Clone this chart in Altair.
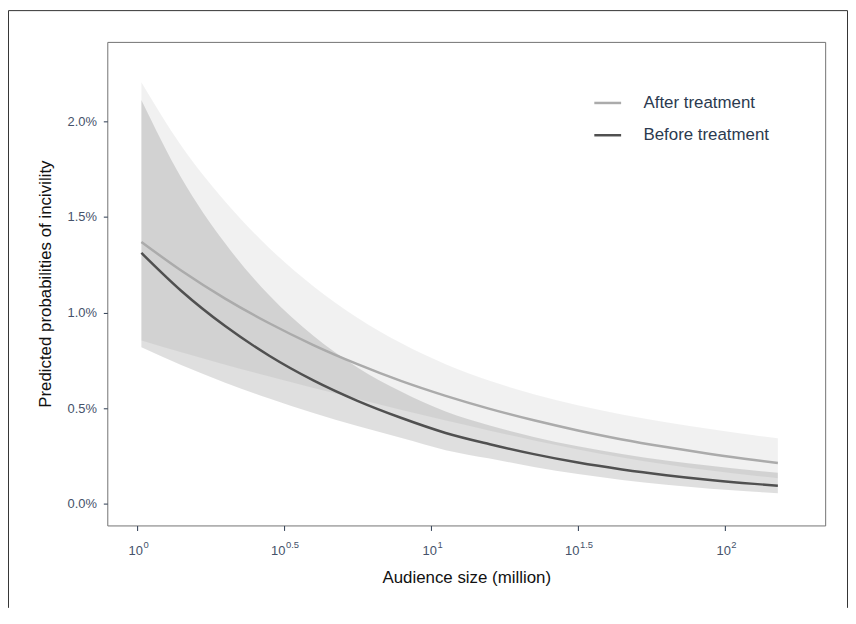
import altair as alt
import pandas as pd

# ---- data (audience in million, probabilities in %) ----
audience = [1.035, 1.413, 1.995, 2.818, 3.981, 5.623, 7.943, 11.22, 15.85,
            22.39, 31.62, 44.67, 63.10, 89.13, 125.9, 151.4]

after_fit = [1.369, 1.220, 1.073, 0.944, 0.830, 0.730, 0.641, 0.564, 0.496,
             0.436, 0.383, 0.336, 0.296, 0.260, 0.228, 0.213]
after_hi = [2.205, 1.874, 1.581, 1.338, 1.138, 0.973, 0.839, 0.730, 0.643,
            0.573, 0.515, 0.467, 0.426, 0.390, 0.358, 0.342]
after_lo = [0.854, 0.792, 0.727, 0.665, 0.605, 0.547, 0.490, 0.435, 0.382,
            0.331, 0.284, 0.242, 0.205, 0.173, 0.146, 0.1325]

before_fit = [1.312, 1.114, 0.929, 0.774, 0.645, 0.538, 0.448, 0.370, 0.311,
              0.259, 0.215, 0.179, 0.149, 0.124, 0.1035, 0.094]
before_hi = [2.112, 1.707, 1.362, 1.090, 0.878, 0.713, 0.585, 0.482, 0.409,
             0.349, 0.300, 0.260, 0.226, 0.198, 0.173, 0.1615]
before_lo = [0.818, 0.726, 0.633, 0.550, 0.474, 0.406, 0.343, 0.280, 0.236,
             0.192, 0.155, 0.124, 0.0985, 0.078, 0.062, 0.0545]

groups = ["After treatment", "Before treatment"]

tick_vals = [1, 3.16228, 10, 31.6228, 100]
tick_exp = ["0", "0.5", "1", "1.5", "2"]
y_ticks = [0, 0.005, 0.01, 0.015, 0.02]

FONT = "Liberation Sans"
LABEL_COLOR = "#45526a"
TICK_COLOR = "#3c4a5e"

n = len(audience)
df = pd.DataFrame({
    "audience": audience * 2,
    "group": [groups[0]] * n + [groups[1]] * n,
    "band": ["a"] * n + ["b"] * n,
    "fit": [v / 100 for v in after_fit + before_fit],
    "lo": [v / 100 for v in after_lo + before_lo],
    "hi": [v / 100 for v in after_hi + before_hi],
})

ticks_df = pd.DataFrame({"t": tick_vals, "e": tick_exp, "b": ["10"] * len(tick_vals)})

xscale = alt.Scale(type="log", domain=[0.7925, 219.3], nice=False)
yscale = alt.Scale(domain=[-0.00114, 0.02416], nice=False, zero=False)

x_enc = alt.X(
    "audience:Q", scale=xscale,
    axis=alt.Axis(values=tick_vals, labels=False, tickSize=5, domain=False, grid=False,
                  title="Audience size (million)", titleFontSize=17, titleFont=FONT,
                  titleFontWeight="normal", titleColor="#111111",
                  titleY=57, titleBaseline="alphabetic"),
)

y_axis = alt.Axis(values=y_ticks, format=".1%", tickSize=4, labelPadding=7, domain=False,
                  grid=False, labelFontSize=13, labelFont=FONT, labelColor=LABEL_COLOR,
                  title="Predicted probabilities of incivility", titleFontSize=17,
                  titleFont=FONT, titleFontWeight="normal", titleColor="#111111",
                  titleX=-57, titleY=243.5, titleBaseline="alphabetic")

band = alt.Chart(df).mark_area(color="black", interpolate="monotone").encode(
    x=x_enc,
    y=alt.Y("lo:Q", scale=yscale, axis=y_axis),
    y2="hi:Q",
    detail="band:N",
    opacity=alt.Opacity("band:N", scale=alt.Scale(domain=["a", "b"], range=[0.055, 0.125]),
                        legend=None),
)

lines = alt.Chart(df).mark_line(strokeWidth=2.5, interpolate="monotone").encode(
    x=alt.X("audience:Q", scale=xscale),
    y=alt.Y("fit:Q", scale=yscale),
    color=alt.Color("group:N", scale=alt.Scale(domain=groups, range=["#ababab", "#505050"]),
                    legend=alt.Legend(title=None, orient="none", legendX=489, legendY=46.5,
                                      symbolType="stroke", symbolSize=729,
                                      symbolStrokeWidth=2.5, labelFontSize=17,
                                      labelFont=FONT, labelColor="#2b3a4f",
                                      labelOffset=21, rowPadding=9.5, padding=0)),
)

def labels(filter_expr, junction):
    base = alt.Chart(ticks_df).transform_filter(filter_expr).mark_text(
        align="right", baseline="alphabetic", dx=junction, fontSize=13, font=FONT,
        color=LABEL_COLOR,
    ).encode(x=alt.X("t:Q", scale=xscale), y=alt.value(517), text="b:N")
    sup = alt.Chart(ticks_df).transform_filter(filter_expr).mark_text(
        align="left", baseline="alphabetic", dx=junction + 0.5, fontSize=9.5, font=FONT,
        color=LABEL_COLOR,
    ).encode(x=alt.X("t:Q", scale=xscale), y=alt.value(510), text="e:N")
    return [base, sup]

int_labels = labels("length(datum.e) == 1", 6)
frac_labels = labels("length(datum.e) > 1", 1.5)

one = pd.DataFrame({"k": [0]})
frame_style = dict(color="#333333", strokeWidth=1)
frame_left = alt.Chart(one).mark_rule(**frame_style).encode(
    x=alt.value(-99.5), y=alt.value(-31.5), y2=alt.value(570))
frame_right = alt.Chart(one).mark_rule(**frame_style).encode(
    x=alt.value(745.5), y=alt.value(-31.5), y2=alt.value(570))
frame_top = alt.Chart(one).mark_rule(**frame_style).encode(
    x=alt.value(-99.5), x2=alt.value(745.5), y=alt.value(-31.5))

chart = alt.layer(band, lines, *int_labels, *frac_labels,
                  frame_left, frame_right, frame_top).properties(
    width=723, height=487,
    padding={"left": 100, "top": 32, "right": 23, "bottom": 81},
    autosize=alt.AutoSizeParams(type="none"),
).configure_view(
    stroke="#737373", strokeWidth=1
).configure_axis(
    tickColor=TICK_COLOR, tickWidth=1.1, labelFont=FONT, titleFont=FONT
)

chart.save("out.html", embed_options={"renderer": "svg", "actions": False})
